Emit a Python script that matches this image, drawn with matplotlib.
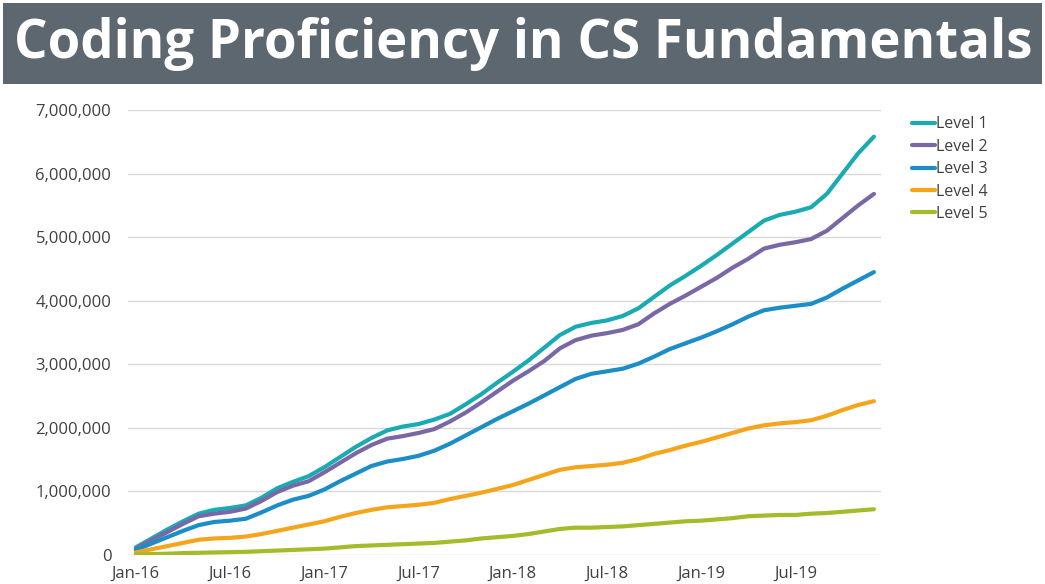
import numpy as np
import matplotlib.pyplot as plt
from matplotlib.patches import Rectangle

# monthly values, Jan-16 .. Dec-19, in millions
months = [f"{m}-{y}" for y in range(16, 20)
          for m in ["Jan", "Feb", "Mar", "Apr", "May", "Jun",
                    "Jul", "Aug", "Sep", "Oct", "Nov", "Dec"]]

level1 = [0.12, 0.26, 0.40, 0.53, 0.65, 0.71, 0.74, 0.78, 0.90, 1.05, 1.15, 1.24,
          1.38, 1.54, 1.70, 1.84, 1.96, 2.02, 2.06, 2.13, 2.22, 2.37, 2.53, 2.71,
          2.88, 3.06, 3.26, 3.46, 3.59, 3.65, 3.69, 3.76, 3.88, 4.06, 4.24, 4.39,
          4.55, 4.72, 4.90, 5.08, 5.26, 5.35, 5.40, 5.47, 5.68, 6.00, 6.32, 6.58]
level2 = [0.10, 0.23, 0.36, 0.49, 0.61, 0.65, 0.68, 0.73, 0.85, 0.99, 1.09, 1.16,
          1.30, 1.45, 1.60, 1.73, 1.83, 1.87, 1.92, 1.98, 2.10, 2.24, 2.40, 2.57,
          2.74, 2.89, 3.05, 3.25, 3.38, 3.45, 3.49, 3.54, 3.63, 3.80, 3.95, 4.08,
          4.22, 4.36, 4.52, 4.66, 4.82, 4.88, 4.92, 4.97, 5.10, 5.30, 5.50, 5.68]
level3 = [0.08, 0.18, 0.28, 0.38, 0.47, 0.52, 0.54, 0.57, 0.67, 0.78, 0.87, 0.93,
          1.03, 1.16, 1.28, 1.40, 1.47, 1.51, 1.56, 1.64, 1.75, 1.88, 2.01, 2.14,
          2.26, 2.38, 2.51, 2.64, 2.77, 2.85, 2.89, 2.93, 3.01, 3.12, 3.24, 3.33,
          3.42, 3.52, 3.63, 3.75, 3.85, 3.89, 3.92, 3.95, 4.05, 4.19, 4.32, 4.45]
level4 = [0.04, 0.09, 0.14, 0.19, 0.24, 0.26, 0.27, 0.29, 0.33, 0.38, 0.43, 0.48,
          0.53, 0.60, 0.66, 0.71, 0.75, 0.77, 0.79, 0.82, 0.88, 0.93, 0.98, 1.04,
          1.10, 1.18, 1.26, 1.34, 1.38, 1.40, 1.42, 1.45, 1.51, 1.59, 1.65, 1.72,
          1.78, 1.85, 1.92, 1.99, 2.04, 2.07, 2.09, 2.12, 2.19, 2.28, 2.36, 2.42]
level5 = [0.01, 0.015, 0.02, 0.03, 0.035, 0.04, 0.045, 0.05, 0.06, 0.07, 0.08, 0.09,
          0.10, 0.12, 0.14, 0.15, 0.16, 0.17, 0.18, 0.19, 0.21, 0.23, 0.26, 0.28,
          0.30, 0.33, 0.37, 0.41, 0.43, 0.43, 0.44, 0.45, 0.47, 0.49, 0.51, 0.53,
          0.54, 0.56, 0.58, 0.61, 0.62, 0.63, 0.63, 0.65, 0.66, 0.68, 0.70, 0.72]

labels = ["Level 1", "Level 2", "Level 3", "Level 4", "Level 5"]
colors = ["#1aabb2", "#7a68a6", "#1b8ec8", "#f5a51c", "#a5bb2a"]

W, H = 1045, 584
fig = plt.figure(figsize=(W / 100, H / 100), dpi=100)
fig.patch.set_facecolor("white")

# title bar
fig.patches.append(Rectangle((3 / W, 1 - 84 / H), 1039 / W, 81 / H,
                             transform=fig.transFigure, facecolor="#5d676f",
                             edgecolor="none", zorder=0))
fig.text(523 / W, 1 - 44 / H, "Coding Proficiency in CS Fundamentals",
         ha="center", va="center", color="white", fontsize=38,
         fontweight="bold", family="Open Sans")

ax = fig.add_axes([128 / W, 1 - 555 / H, (881 - 128) / W, (555 - 110) / H])
x = np.arange(len(months))
for vals, lab, c in zip([level1, level2, level3, level4, level5], labels, colors):
    ax.plot(x, np.array(vals) * 1e6, color=c, lw=3, label=lab,
            solid_capstyle="round", solid_joinstyle="round")

ax.set_xlim(-0.5, 47.45)
ax.set_ylim(0, 7e6)
ax.set_yticks(np.arange(0, 7.5e6, 1e6))
ax.set_yticklabels([f"{int(v):,}" for v in np.arange(0, 7.5e6, 1e6)])
ax.set_xticks(x[::6])
ax.set_xticklabels(months[::6])
ax.grid(axis="y", color="#d9d9d9", lw=1)
ax.set_axisbelow(True)
for s in ax.spines.values():
    s.set_visible(False)
ax.tick_params(length=0, labelsize=12, labelcolor="#404040")
ax.tick_params(axis="y", pad=12)
ax.tick_params(axis="x", pad=8)
for t in ax.get_xticklabels() + ax.get_yticklabels():
    t.set_family("Open Sans")

leg = fig.legend(loc="upper left", bbox_to_anchor=(898 / W, 1 - 102 / H),
                 frameon=False, handlelength=1.4, handletextpad=0.1,
                 labelspacing=0.4, prop={"family": "Open Sans", "size": 11.5})
for t in leg.get_texts():
    t.set_color("#404040")

fig.savefig("out.png", dpi=100)
